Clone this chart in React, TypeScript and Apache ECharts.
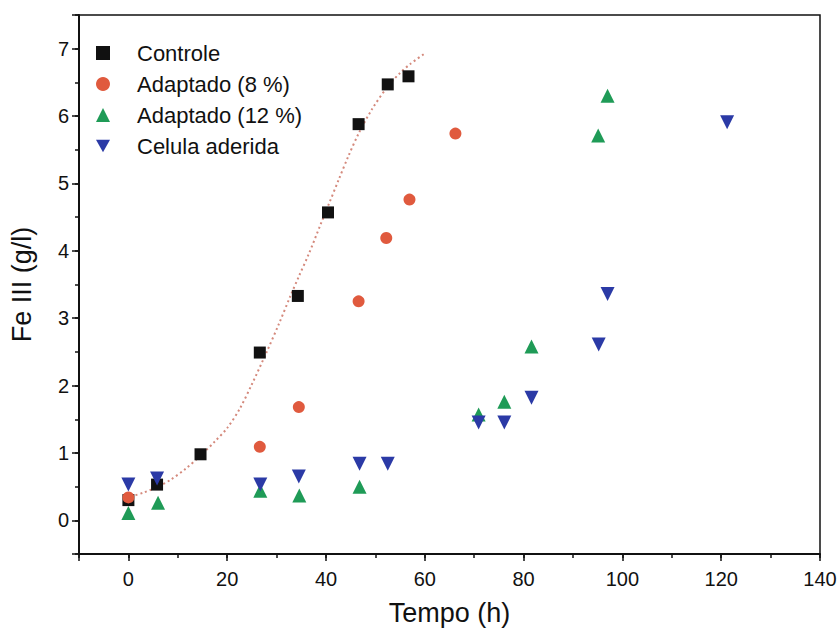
import React, { useEffect, useRef } from "react";
import * as echarts from "echarts";

// Controle (black squares)
const controleX = [0, 5.8, 14.6, 26.6, 34.3, 40.4, 46.6, 52.5, 56.7];
const controleY = [0.3, 0.53, 0.98, 2.49, 3.33, 4.57, 5.88, 6.47, 6.59];

// Adaptado (8 %) (red circles)
const adapt8X = [0, 26.6, 34.5, 46.6, 52.2, 56.9, 66.2];
const adapt8Y = [0.34, 1.09, 1.68, 3.25, 4.19, 4.76, 5.74];

// Adaptado (12 %) (green triangles)
const adapt12X = [0, 6, 26.7, 34.6, 46.8, 70.9, 76.1, 81.6, 95.1, 97];
const adapt12Y = [0.11, 0.26, 0.44, 0.37, 0.5, 1.57, 1.76, 2.58, 5.71, 6.3];

// Celula aderida (blue down triangles)
const celulaX = [0, 5.8, 26.7, 34.5, 46.8, 52.5, 70.9, 76.1, 81.6, 95.2, 97, 121.2];
const celulaY = [0.53, 0.62, 0.53, 0.65, 0.84, 0.84, 1.45, 1.45, 1.82, 2.61, 3.36, 5.91];

// Fitted curve (dotted)
const fitX = [-0.5, 3, 6, 8.5, 11.5, 14.6, 17.5, 20, 22.5, 25, 28, 30.5, 32.8, 34.5, 36.5, 38.9, 40.5, 42.6, 44.5, 46.6, 49.3, 52.5, 55, 57, 60];
const fitY = [0.33, 0.41, 0.5, 0.6, 0.76, 0.96, 1.17, 1.37, 1.65, 2.02, 2.5, 2.92, 3.33, 3.62, 3.95, 4.39, 4.68, 5.06, 5.4, 5.74, 6.1, 6.44, 6.64, 6.77, 6.93];

const seriesNames = ["Controle", "Adaptado (8 %)", "Adaptado (12 %)", "Celula aderida"];

const zip = (xs: number[], ys: number[]) => xs.map((x, i) => [x, ys[i]]);

const FONT = "Liberation Sans, Arial, sans-serif";

export default function App() {
  const ref = useRef<HTMLDivElement>(null);
  useEffect(() => {
    if (!ref.current) return;
    const chart = echarts.init(ref.current, undefined, { renderer: "svg" });
    const grid = { left: 77, top: 15, right: 20, bottom: 83, show: true, borderColor: "#111", borderWidth: 1.5, backgroundColor: "transparent" };
    chart.setOption({
      animation: false,
      backgroundColor: "#fff",
      textStyle: { fontFamily: FONT },
      grid,
      legend: {
        data: [
          { name: seriesNames[0], icon: "rect" },
          { name: seriesNames[1], icon: "circle" },
          { name: seriesNames[2], icon: "triangle" },
          { name: seriesNames[3], icon: "path://M0,0 L10,0 L5,9 Z" },
        ],
        orient: "vertical",
        left: 91,
        top: 37,
        itemWidth: 14,
        itemHeight: 14,
        itemGap: 9,
        textStyle: { fontSize: 22, color: "#111", fontFamily: FONT, padding: [0, 0, 0, 22] },
      },
      xAxis: [
        {
          type: "value",
          min: -10,
          max: 140,
          splitNumber: 7,
          position: "bottom",
          name: "Tempo (h)",
          nameLocation: "middle",
          nameGap: 45,
          nameTextStyle: { fontSize: 27, color: "#111", fontFamily: FONT },
          axisLine: { show: true, onZero: false, lineStyle: { color: "#111", width: 2 } },
          axisTick: { show: true, length: 7, lineStyle: { color: "#111", width: 1.5 } },
          axisLabel: {
            fontSize: 20,
            color: "#111",
            margin: 15,
            fontFamily: FONT,
            formatter: (v: number) => (v < 0 ? "" : String(v)),
          },
          splitLine: { show: false },
        },
        {
          type: "value",
          min: -10,
          max: 140,
          interval: 10,
          position: "bottom",
          axisLine: { show: false, onZero: false },
          axisTick: { show: true, length: 4, lineStyle: { color: "#111", width: 1.5 } },
          axisLabel: { show: false },
          splitLine: { show: false },
        },
      ],
      yAxis: [
        {
          type: "value",
          min: -0.5,
          max: 7.5,
          splitNumber: 8,
          position: "left",
          name: "Fe III (g/l)",
          nameLocation: "middle",
          nameGap: 44,
          nameTextStyle: { fontSize: 27, color: "#111", fontFamily: FONT },
          axisLine: { show: true, onZero: false, lineStyle: { color: "#111", width: 2 } },
          axisTick: { show: true, length: 7, lineStyle: { color: "#111", width: 1.5 } },
          axisLabel: {
            fontSize: 20,
            color: "#111",
            margin: 10,
            fontFamily: FONT,
            formatter: (v: number) => (Number.isInteger(v) ? String(v) : ""),
          },
          splitLine: { show: false },
        },
        {
          type: "value",
          min: -0.5,
          max: 7.5,
          interval: 0.5,
          position: "left",
          axisLine: { show: false, onZero: false },
          axisTick: { show: true, length: 4, lineStyle: { color: "#111", width: 1.5 } },
          axisLabel: { show: false },
          splitLine: { show: false },
        },
      ],
      series: [
        {
          name: "fit",
          type: "line",
          data: zip(fitX, fitY),
          smooth: 0.3,
          showSymbol: false,
          symbol: "none",
          lineStyle: { color: "#d4897c", width: 2, type: [2, 3] },
          z: 1,
          silent: true,
        },
        {
          name: seriesNames[0],
          type: "scatter",
          data: zip(controleX, controleY),
          symbol: "rect",
          symbolSize: 12,
          itemStyle: { color: "#111111", opacity: 1 },
          z: 3,
        },
        {
          name: seriesNames[1],
          type: "scatter",
          data: zip(adapt8X, adapt8Y),
          symbol: "circle",
          symbolSize: 12,
          itemStyle: { color: "#e05a3e", opacity: 1 },
          z: 4,
        },
        {
          name: seriesNames[2],
          type: "scatter",
          data: zip(adapt12X, adapt12Y),
          symbol: "triangle",
          symbolSize: 14,
          itemStyle: { color: "#1f9b57", opacity: 1 },
          z: 5,
        },
        {
          name: seriesNames[3],
          type: "scatter",
          data: zip(celulaX, celulaY),
          symbol: "triangle",
          symbolRotate: 180,
          symbolSize: 14,
          itemStyle: { color: "#2b3aa6", opacity: 1 },
          z: 6,
        },
      ],
    });
    return () => chart.dispose();
  }, []);
  return <div ref={ref} style={{ width: 840, height: 637, position: "absolute", left: 0, top: 0 }} />;
}
